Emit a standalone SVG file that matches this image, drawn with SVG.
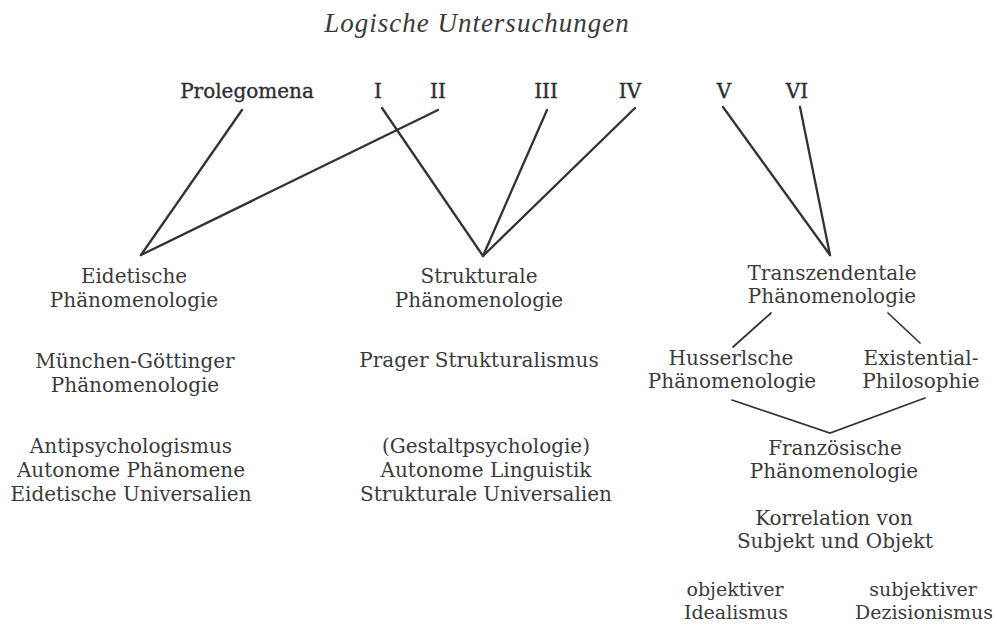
<svg xmlns="http://www.w3.org/2000/svg" width="997" height="625" viewBox="0 0 997 625">
<style>
text{font-family:"DejaVu Serif","Liberation Serif",serif;fill:#3a3a3a;text-anchor:middle}
.t{font-family:"Liberation Serif","Times New Roman",serif;font-size:27px;font-style:italic;letter-spacing:1px}
.h{font-size:20px;fill:#2e2e2e;stroke:#2e2e2e;stroke-width:0.35}
.b{font-size:20px}
.s{font-size:19px}
.c line,.c polyline{stroke:#333;fill:none;stroke-linecap:round}
.k{stroke-width:2.3}
.n{stroke-width:1.7}
</style>
<rect width="997" height="625" fill="#fff"/>
<g id="title"><text class="t" x="477" y="32">Logische Untersuchungen</text></g>
<g id="prolegomena"><text class="h" x="247" y="98">Prolegomena</text></g>
<g id="vol-I"><text class="h" x="378" y="98">I</text></g>
<g id="vol-II"><text class="h" x="438" y="98">II</text></g>
<g id="vol-III"><text class="h" x="546" y="98">III</text></g>
<g id="vol-IV"><text class="h" x="630" y="98">IV</text></g>
<g id="vol-V"><text class="h" x="724" y="98">V</text></g>
<g id="vol-VI"><text class="h" x="797" y="98">VI</text></g>
<g id="eidetische"><text class="b" x="134" y="283">Eidetische</text><text class="b" x="134" y="307">Phänomenologie</text></g>
<g id="muenchen"><text class="b" x="135" y="368">München-Göttinger</text><text class="b" x="135" y="392">Phänomenologie</text></g>
<g id="eidetisch-list"><text class="b" x="131" y="453">Antipsychologismus</text><text class="b" x="131" y="477">Autonome Phänomene</text><text class="b" x="131" y="501">Eidetische Universalien</text></g>
<g id="strukturale"><text class="b" x="479" y="283">Strukturale</text><text class="b" x="479" y="307">Phänomenologie</text></g>
<g id="prager"><text class="b" x="479" y="367">Prager Strukturalismus</text></g>
<g id="struktur-list"><text class="b" x="486" y="453">(Gestaltpsychologie)</text><text class="b" x="486" y="477">Autonome Linguistik</text><text class="b" x="486" y="501">Strukturale Universalien</text></g>
<g id="transzendentale"><text class="b" x="832" y="280">Transzendentale</text><text class="b" x="832" y="303">Phänomenologie</text></g>
<g id="husserlsche"><text class="b" x="731" y="365">Husserlsche</text><text class="b" x="732" y="388">Phänomenologie</text></g>
<g id="existential"><text class="b" x="921" y="365">Existential-</text><text class="b" x="921" y="388">Philosophie</text></g>
<g id="franzoesische"><text class="b" x="835" y="455">Französische</text><text class="b" x="834" y="478">Phänomenologie</text></g>
<g id="korrelation"><text class="b" x="834" y="525">Korrelation von</text><text class="b" x="835" y="548">Subjekt und Objekt</text></g>
<g id="objektiver"><text class="s" x="735" y="596">objektiver</text><text class="s" x="736" y="619">Idealismus</text></g>
<g id="subjektiver"><text class="s" x="923" y="596">subjektiver</text><text class="s" x="924" y="619">Dezisionismus</text></g>
<g id="connectors" class="c">
<line class="k" x1="242" y1="110" x2="141" y2="255"/>
<line class="k" x1="438" y1="110" x2="141" y2="255"/>
<line class="k" x1="382" y1="108" x2="483" y2="256"/>
<line class="k" x1="547" y1="110" x2="483" y2="256"/>
<line class="k" x1="635" y1="108" x2="483" y2="256"/>
<line class="k" x1="723" y1="107" x2="830" y2="255"/>
<line class="k" x1="800" y1="107" x2="830" y2="255"/>
<line class="n" x1="771" y1="313" x2="733" y2="347"/>
<line class="n" x1="888" y1="313" x2="920" y2="343"/>
<polyline class="n" points="732,400 830,433 925,398"/>
</g>
</svg>
